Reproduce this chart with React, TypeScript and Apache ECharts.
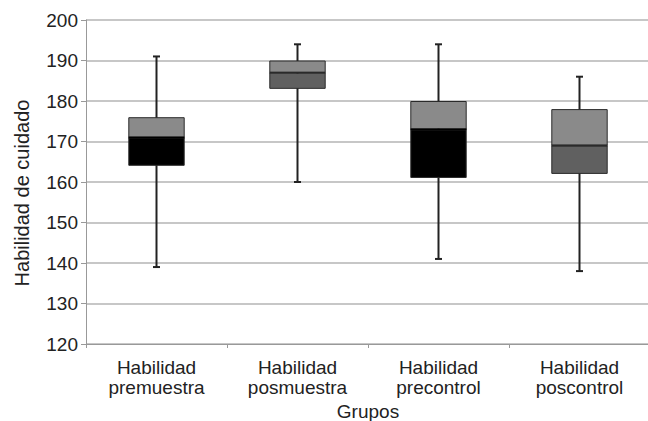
import React, { useEffect, useRef } from "react";
import * as echarts from "echarts";

const categories = [
  "Habilidad\npremuestra",
  "Habilidad\nposmuestra",
  "Habilidad\nprecontrol",
  "Habilidad\nposcontrol",
];
const minValues = [139, 160, 141, 138];
const q1Values = [164, 183, 161, 162];
const medianValues = [171, 187, 173, 169];
const q3Values = [176, 190, 180, 178];
const maxValues = [191, 194, 194, 186];
const lowerColors = ["#000000", "#606060", "#000000", "#606060"];
const upperColor = "#8a8a8a";
const yTicks = { min: 120, max: 200, interval: 10 };

export default function App() {
  const ref = useRef<HTMLDivElement>(null);
  useEffect(() => {
    if (!ref.current) return;
    document.body.style.margin = "0";
    document.body.style.overflow = "hidden";
    const chart = echarts.init(ref.current, undefined, { renderer: "svg" });
    const font = "Liberation Sans, Arial, sans-serif";
    chart.setOption({
      animation: false,
      grid: {
        left: 86,
        right: -2,
        top: 20,
        bottom: 77,
        containLabel: false,
        outerBoundsMode: "none",
      },
      xAxis: {
        type: "category",
        data: categories,
        name: "Grupos",
        nameLocation: "middle",
        nameGap: 49,
        nameTextStyle: { fontSize: 19, lineHeight: 20, color: "#222", fontFamily: font },
        axisLine: { lineStyle: { color: "#999", width: 1 } },
        axisTick: { show: true, length: 4, lineStyle: { color: "#999" } },
        axisLabel: { fontSize: 19, lineHeight: 20, color: "#222", fontFamily: font, margin: 13 },
      },
      yAxis: {
        type: "value",
        min: yTicks.min,
        max: yTicks.max,
        interval: yTicks.interval,
        name: "Habilidad de cuidado",
        nameLocation: "middle",
        nameGap: 54,
        nameTextStyle: { fontSize: 20, color: "#222", fontFamily: font, padding: [0, 22, 0, 0] },
        axisLine: { show: true, lineStyle: { color: "#999", width: 1 } },
        axisTick: { show: true, length: 5, lineStyle: { color: "#999" } },
        axisLabel: { fontSize: 19, color: "#222", fontFamily: font, margin: 8 },
        splitLine: { lineStyle: { color: "#b4b4b4", width: 1.5 } },
      },
      series: [
        {
          type: "custom",
          z: 1,
          data: categories.map((_, i) => [i, minValues[i], maxValues[i]]),
          encode: { x: 0, y: [1, 2] },
          renderItem: (params: any, api: any) => {
            const lo = api.coord([api.value(0), api.value(1)]);
            const hi = api.coord([api.value(0), api.value(2)]);
            const cap = 3.5;
            const style = { stroke: "#222", lineWidth: 2 };
            return {
              type: "group",
              children: [
                { type: "line", shape: { x1: lo[0], y1: lo[1], x2: hi[0], y2: hi[1] }, style },
                { type: "line", shape: { x1: lo[0] - cap, y1: lo[1], x2: lo[0] + cap, y2: lo[1] }, style },
                { type: "line", shape: { x1: hi[0] - cap, y1: hi[1], x2: hi[0] + cap, y2: hi[1] }, style },
              ],
            };
          },
        },
        {
          type: "bar",
          stack: "box",
          z: 2,
          barWidth: "40%",
          itemStyle: { color: "rgba(0,0,0,0)" },
          emphasis: { disabled: true },
          data: q1Values,
        },
        {
          type: "bar",
          stack: "box",
          z: 2,
          barWidth: "40%",
          emphasis: { disabled: true },
          data: medianValues.map((v, i) => ({
            value: v - q1Values[i],
            itemStyle: { color: lowerColors[i], borderColor: "#2a2a2a", borderWidth: 1 },
          })),
        },
        {
          type: "bar",
          stack: "box",
          z: 2,
          barWidth: "40%",
          emphasis: { disabled: true },
          data: q3Values.map((v, i) => ({
            value: v - medianValues[i],
            itemStyle: { color: upperColor, borderColor: "#2a2a2a", borderWidth: 1 },
          })),
        },
        {
          type: "custom",
          z: 3,
          data: categories.map((_, i) => [i, medianValues[i]]),
          encode: { x: 0, y: 1 },
          renderItem: (params: any, api: any) => {
            const c = api.coord([api.value(0), api.value(1)]);
            const w = api.size([1, 0])[0] * 0.4;
            const dark = lowerColors[params.dataIndex] === "#000000";
            return {
              type: "line",
              shape: { x1: c[0] - w / 2, y1: c[1], x2: c[0] + w / 2, y2: c[1] },
              style: { stroke: dark ? "#000000" : "#2a2a2a", lineWidth: 1.5 },
            };
          },
        },
      ],
    });
    return () => chart.dispose();
  }, []);
  return <div ref={ref} style={{ width: 648, height: 421, position: "absolute", left: 0, top: 0 }} />;
}
